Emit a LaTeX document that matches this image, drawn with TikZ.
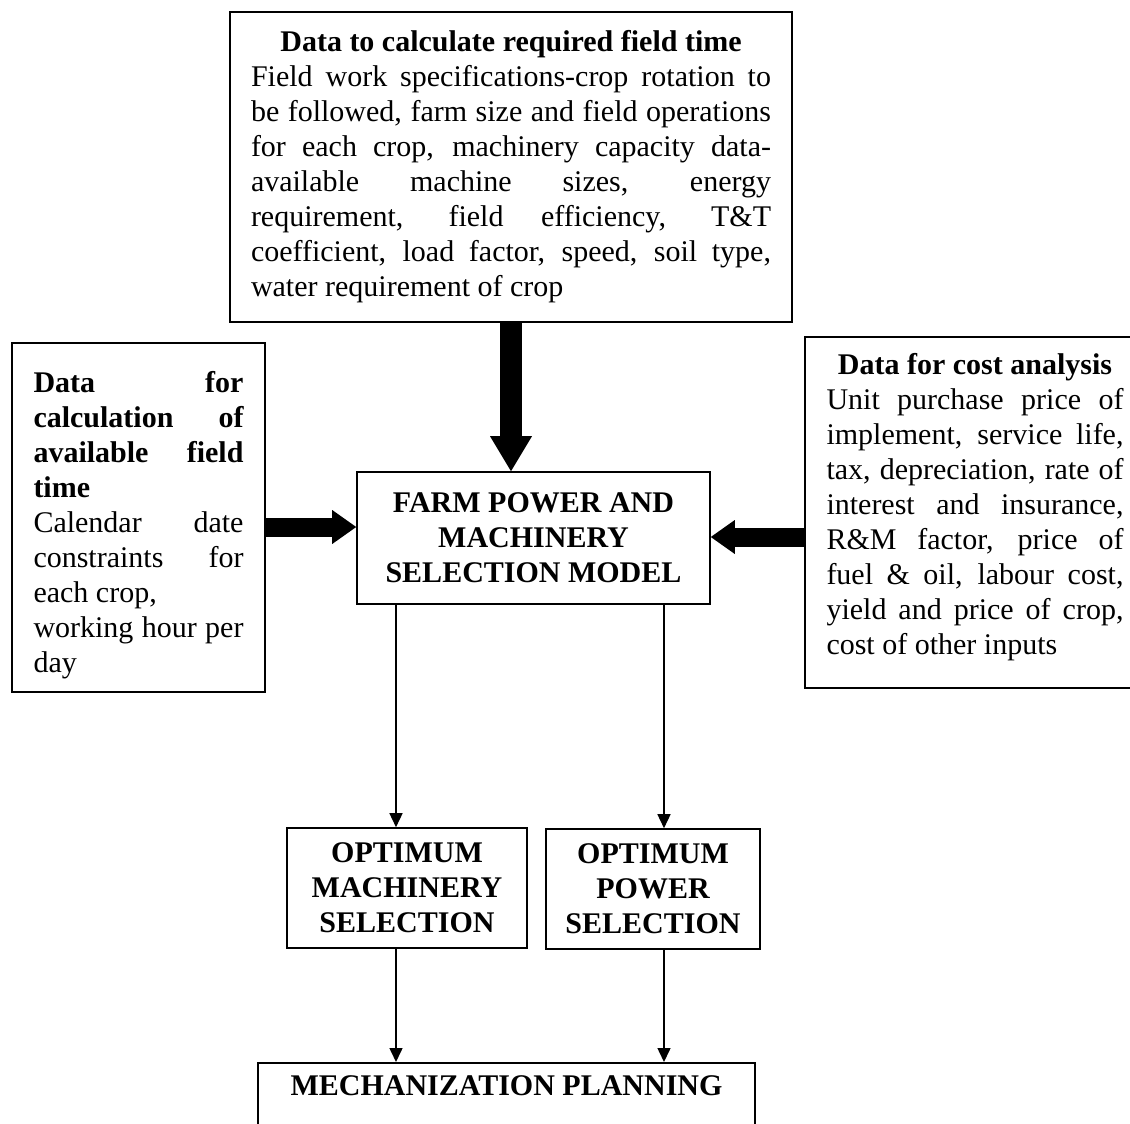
\documentclass[tikz,border=0pt]{standalone}
\usepackage{fontspec}
\setmainfont{Liberation Serif}
\usetikzlibrary{arrows.meta}
\tolerance=10000
\hyphenpenalty=10000

\tikzset{
  box/.style={draw, line width=1.6pt, inner sep=0pt, font=\fontsize{30}{35}\selectfont},
  databox/.style={box, align=justify},
  headbox/.style={box, align=center, font=\fontsize{30}{35}\selectfont\bfseries},
  bigarrow/.style={line width=22pt, -{Triangle[width=42pt,length=35pt,line width=0pt]}},
  sidearrow/.style={line width=19pt, -{Triangle[width=34pt,length=24pt,line width=0pt]}},
  thinarrow/.style={line width=1.5pt, -{Triangle[width=13pt,length=14pt]}},
}

\begin{document}
\begin{tikzpicture}[x=1pt,y=-1pt]
\useasboundingbox (0,0) rectangle (1130,1124);
\node[databox, text width=520pt, minimum width=562pt, minimum height=310pt] (req) at (511,167)
  {{\centering\bfseries Data to calculate required field time\par}
   Field work specifications-crop rotation to\linebreak
   be followed, farm size and field operations\linebreak
   for each crop, machinery capacity data-\linebreak
   available machine sizes, energy\linebreak
   requirement, field efficiency, T\&T\linebreak
   coefficient, load factor, speed, soil type,\linebreak
   water requirement of crop};
\node[databox, text width=210pt, minimum width=253pt, minimum height=349pt] (avail) at (138.5,517.5)
  {{\bfseries Data for\linebreak calculation of\linebreak available field\linebreak time\par}
   Calendar date\linebreak constraints for\linebreak each crop,\newline
   working hour per\linebreak day\par\kern-16pt};
\node[databox, text width=297pt, minimum width=340pt, minimum height=351pt] (cost) at (975,512.5)
  {{\centering\bfseries Data for cost analysis\par}
   Unit purchase price of\linebreak
   implement, service life,\linebreak
   tax, depreciation, rate of\linebreak
   interest and insurance,\linebreak
   R\&M factor, price of\linebreak
   fuel \& oil, labour cost,\linebreak
   yield and price of crop,\linebreak
   cost of other inputs\par\kern10pt};
\node[headbox, minimum width=353pt, minimum height=132pt] (model) at (533.5,538)
  {FARM POWER AND\\MACHINERY\\SELECTION MODEL};
\node[headbox, minimum width=240pt, minimum height=120pt] (mach) at (407,888)
  {OPTIMUM\\MACHINERY\\SELECTION};
\node[headbox, minimum width=214pt, minimum height=120pt] (pow) at (653,889)
  {OPTIMUM\\POWER\\SELECTION};
\node[headbox, anchor=north, minimum width=497pt, text height=21pt, text depth=70pt, inner ysep=12pt] (plan) at (506.5,1062)
  {MECHANIZATION PLANNING};

\draw[bigarrow] (req.south) -- (req.south |- model.north);
\coordinate (lin) at ([yshift=-9.5pt]avail.east);
\coordinate (rin) at ([yshift=-24.5pt]cost.west);
\draw[sidearrow] (lin) -- (lin -| model.west);
\draw[sidearrow] (rin) -- (rin -| model.east);

\coordinate (lcol) at ([xshift=-137.5pt]model.south);
\coordinate (rcol) at ([xshift=130.5pt]model.south);
\foreach \c/\sel in {lcol/mach, rcol/pow} {
  \draw[thinarrow] (\c) -- (\c |- \sel.north);
  \draw[thinarrow] (\c |- \sel.south) -- (\c |- plan.north);
}
\end{tikzpicture}
\end{document}
